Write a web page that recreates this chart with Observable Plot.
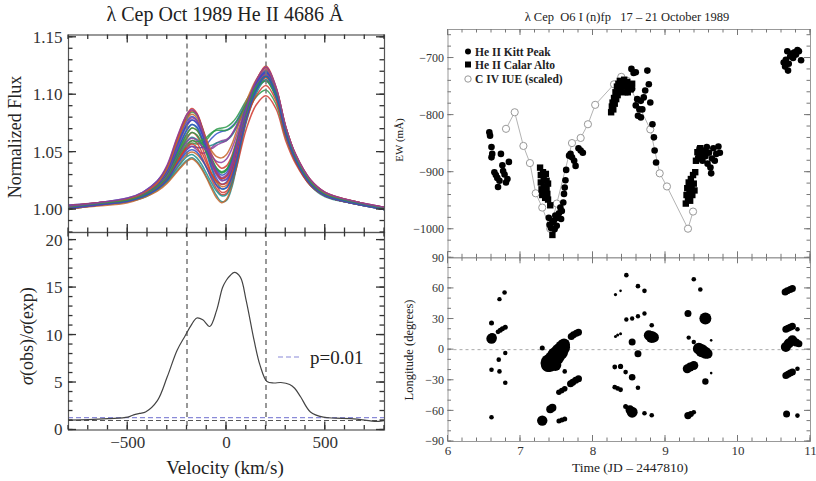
<!DOCTYPE html>
<html><head><meta charset="utf-8">
<script src="https://cdn.jsdelivr.net/npm/d3@7"></script>
<script src="https://cdn.jsdelivr.net/npm/@observablehq/plot@0.6"></script>
<style>
body{margin:0;background:#fff;}
#wrap{position:relative;width:816px;height:481px;overflow:hidden;background:#fff;}
#wrap svg{position:absolute;left:0;top:0;}
</style></head><body><div id="wrap"></div>
<script>
// ---------- LEFT: He II 4686 profiles ----------
const velGrid = [-800,-650,-500,-425,-350,-300,-250,-200,-175,-150,-125,-100,-75,-50,-25,0,25,50,100,150,200,250,300,350,425,500,650,800];
const profiles = [
 [1.003,1.005,1.009,1.014,1.024,1.038,1.062,1.083,1.088,1.084,1.073,1.060,1.048,1.040,1.036,1.038,1.046,1.060,1.090,1.112,1.124,1.106,1.072,1.048,1.026,1.015,1.007,1.001],
 [1.001,1.004,1.008,1.013,1.022,1.035,1.058,1.080,1.085,1.082,1.072,1.058,1.045,1.036,1.032,1.035,1.044,1.058,1.088,1.110,1.121,1.104,1.070,1.046,1.024,1.014,1.006,1.000],
 [1.004,1.006,1.010,1.015,1.025,1.037,1.058,1.077,1.081,1.078,1.068,1.055,1.042,1.032,1.026,1.026,1.034,1.050,1.084,1.108,1.120,1.103,1.068,1.044,1.023,1.013,1.006,1.002],
 [1.002,1.005,1.008,1.012,1.021,1.032,1.053,1.073,1.078,1.076,1.068,1.057,1.047,1.042,1.041,1.044,1.052,1.064,1.090,1.110,1.119,1.103,1.071,1.047,1.025,1.014,1.007,1.001],
 [1.000,1.004,1.007,1.011,1.019,1.030,1.050,1.070,1.074,1.071,1.061,1.048,1.035,1.024,1.018,1.019,1.028,1.045,1.082,1.106,1.118,1.100,1.066,1.043,1.022,1.012,1.005,1.000],
 [1.003,1.006,1.009,1.013,1.021,1.031,1.048,1.066,1.071,1.069,1.061,1.050,1.039,1.031,1.027,1.029,1.038,1.053,1.086,1.108,1.117,1.101,1.068,1.045,1.024,1.013,1.006,1.002],
 [1.002,1.004,1.008,1.012,1.019,1.028,1.045,1.062,1.067,1.064,1.055,1.043,1.031,1.021,1.015,1.016,1.025,1.042,1.080,1.104,1.115,1.099,1.065,1.042,1.021,1.012,1.005,1.001],
 [1.002,1.005,1.008,1.012,1.019,1.027,1.042,1.055,1.058,1.057,1.058,1.061,1.066,1.070,1.071,1.072,1.075,1.080,1.095,1.108,1.116,1.102,1.070,1.046,1.024,1.013,1.006,1.001],
 [1.001,1.004,1.007,1.011,1.018,1.026,1.040,1.052,1.055,1.054,1.054,1.057,1.062,1.066,1.068,1.069,1.072,1.077,1.093,1.106,1.113,1.100,1.068,1.044,1.023,1.012,1.005,1.000],
 [1.003,1.005,1.009,1.013,1.020,1.028,1.042,1.053,1.055,1.052,1.049,1.050,1.054,1.058,1.060,1.061,1.065,1.072,1.090,1.105,1.112,1.099,1.067,1.044,1.023,1.013,1.006,1.002],
 [1.002,1.004,1.007,1.010,1.017,1.024,1.034,1.043,1.045,1.042,1.036,1.028,1.020,1.012,1.007,1.008,1.018,1.036,1.076,1.101,1.113,1.098,1.065,1.042,1.021,1.011,1.005,1.000],
 [1.001,1.003,1.006,1.010,1.016,1.023,1.033,1.042,1.044,1.041,1.035,1.027,1.018,1.010,1.006,1.009,1.020,1.038,1.078,1.104,1.117,1.101,1.067,1.043,1.022,1.012,1.005,1.001],
 [1.003,1.005,1.008,1.012,1.019,1.027,1.041,1.054,1.057,1.054,1.046,1.036,1.026,1.018,1.013,1.014,1.022,1.036,1.070,1.091,1.099,1.088,1.060,1.040,1.021,1.012,1.006,1.002],
 [1.002,1.005,1.008,1.012,1.020,1.030,1.049,1.066,1.071,1.069,1.062,1.052,1.043,1.036,1.033,1.035,1.043,1.055,1.082,1.098,1.104,1.092,1.063,1.042,1.022,1.012,1.006,1.001],
 [1.001,1.004,1.008,1.012,1.020,1.031,1.051,1.069,1.074,1.072,1.063,1.050,1.037,1.027,1.022,1.024,1.033,1.049,1.084,1.108,1.119,1.102,1.068,1.045,1.024,1.013,1.006,1.000],
 [1.004,1.006,1.009,1.013,1.022,1.033,1.054,1.075,1.080,1.077,1.067,1.053,1.040,1.030,1.025,1.027,1.036,1.052,1.087,1.111,1.122,1.105,1.071,1.047,1.025,1.014,1.007,1.002],
 [1.002,1.005,1.008,1.012,1.020,1.029,1.046,1.060,1.063,1.061,1.057,1.055,1.056,1.058,1.059,1.060,1.064,1.071,1.090,1.107,1.116,1.101,1.069,1.045,1.024,1.013,1.006,1.001],
 [1.000,1.004,1.007,1.011,1.018,1.025,1.037,1.048,1.050,1.048,1.043,1.037,1.030,1.024,1.020,1.021,1.029,1.044,1.080,1.104,1.115,1.100,1.066,1.043,1.022,1.012,1.005,1.000],
 [1.003,1.006,1.009,1.014,1.023,1.036,1.060,1.081,1.086,1.083,1.072,1.057,1.043,1.032,1.027,1.029,1.038,1.054,1.087,1.112,1.125,1.107,1.072,1.048,1.026,1.015,1.007,1.002],
 [1.002,1.005,1.008,1.012,1.020,1.030,1.047,1.063,1.067,1.065,1.058,1.049,1.041,1.035,1.032,1.034,1.042,1.056,1.085,1.105,1.112,1.098,1.066,1.043,1.023,1.013,1.006,1.001],
 [1.002,1.005,1.009,1.013,1.022,1.034,1.056,1.074,1.078,1.075,1.066,1.054,1.042,1.034,1.030,1.032,1.041,1.056,1.088,1.110,1.120,1.104,1.070,1.046,1.024,1.014,1.006,1.001],
 [1.001,1.004,1.008,1.012,1.020,1.029,1.045,1.059,1.062,1.060,1.055,1.052,1.053,1.056,1.058,1.060,1.065,1.073,1.092,1.108,1.118,1.103,1.070,1.046,1.024,1.013,1.006,1.001],
 [1.003,1.005,1.008,1.011,1.018,1.025,1.036,1.046,1.048,1.045,1.039,1.031,1.023,1.016,1.012,1.013,1.022,1.039,1.078,1.103,1.116,1.100,1.066,1.043,1.022,1.012,1.005,1.001],
 [1.002,1.005,1.009,1.014,1.023,1.036,1.059,1.079,1.083,1.080,1.071,1.060,1.051,1.046,1.045,1.048,1.056,1.068,1.094,1.113,1.123,1.106,1.072,1.047,1.025,1.014,1.007,1.001],
 [1.002,1.004,1.008,1.012,1.019,1.027,1.042,1.056,1.060,1.058,1.050,1.040,1.031,1.025,1.022,1.023,1.031,1.045,1.078,1.099,1.108,1.095,1.064,1.042,1.022,1.012,1.005,1.001],
 [1.002,1.005,1.008,1.012,1.020,1.028,1.044,1.057,1.060,1.059,1.060,1.063,1.067,1.069,1.069,1.069,1.071,1.076,1.092,1.107,1.116,1.102,1.069,1.045,1.024,1.013,1.006,1.001],
 [1.001,1.004,1.007,1.011,1.018,1.026,1.039,1.050,1.052,1.050,1.044,1.036,1.028,1.021,1.018,1.019,1.027,1.042,1.079,1.104,1.116,1.100,1.066,1.043,1.022,1.012,1.005,1.000],
 [1.003,1.006,1.010,1.015,1.025,1.039,1.063,1.083,1.087,1.083,1.071,1.056,1.043,1.033,1.028,1.030,1.039,1.055,1.088,1.112,1.124,1.107,1.072,1.048,1.026,1.015,1.007,1.002]
];
const lineColors = ["#d03a2f","#2c9a4a","#2f4fc4","#8b3d9e","#1d8c8c","#c8642a"];
const sigmaVel = [-800,-700,-600,-500,-470,-440,-410,-350,-300,-250,-210,-180,-150,-120,-85,-50,-20,0,20,40,70,100,140,170,205,240,275,320,345,375,425,490,550,630,700,750,800];
const sigmaRatio = [1.05,1.1,1.2,1.35,1.6,1.75,1.9,3.1,5.6,8.4,9.9,11.0,11.8,11.6,10.9,12.6,15.0,15.8,16.3,16.6,16.1,13.6,9.4,6.8,5.1,4.95,5.0,4.8,4.4,3.5,1.9,1.35,1.25,1.2,1.05,0.9,1.0];
const markerVel = [-200, 200];
const expLevel = [1.0];
const pLevel = [1.3];

// ---------- RIGHT: EW time series ----------
const kittPeak = [
 [6.57,-830],[6.58,-836],[6.60,-856],[6.61,-868],[6.60,-874],[6.64,-900],[6.66,-905],[6.68,-910],[6.69,-926],[6.71,-915],[6.73,-868],[6.75,-888],[6.76,-898],[6.78,-904],[6.80,-918],[6.82,-912],[6.84,-882],
 [7.39,-980],[7.40,-992],[7.42,-998],[7.44,-988],[7.46,-985],[7.47,-1000],[7.48,-976],[7.50,-994],[7.51,-980],[7.53,-972],[7.55,-962],[7.56,-982],[7.57,-968],[7.59,-953],[7.60,-938],[7.61,-927],[7.62,-914],[7.63,-896],[7.67,-871],[7.69,-868],[7.71,-874],[7.74,-880],[7.76,-889],[7.80,-858],[7.83,-862],[7.86,-866],
 [8.47,-760],[8.49,-746],[8.53,-719],[8.54,-754],[8.56,-726],[8.59,-725],[8.59,-783],[8.61,-772],[8.62,-801],[8.64,-790],[8.66,-775],[8.66,-804],[8.68,-790],[8.70,-769],[8.72,-757],[8.75,-722],[8.77,-746],[8.79,-778],[8.82,-816],[8.84,-839],[8.85,-862],[8.87,-883],
 [9.45,-875],[9.47,-858],[9.49,-868],[9.51,-880],[9.53,-862],[9.55,-872],[9.57,-856],[9.58,-885],[9.60,-866],[9.62,-892],[9.63,-902],[9.64,-876],[9.66,-858],[9.68,-880],[9.70,-868],[9.73,-855],[9.75,-866],
 [10.63,-708],[10.65,-715],[10.66,-703],[10.68,-688],[10.69,-722],[10.70,-710],[10.72,-697],[10.74,-692],[10.76,-700],[10.78,-690],[10.80,-694],[10.82,-686],[10.84,-688],[10.87,-704]
];
const calarAlto = [
 [7.27,-892],[7.28,-905],[7.28,-918],[7.29,-930],[7.30,-940],[7.31,-900],[7.32,-912],[7.32,-925],[7.33,-935],[7.34,-945],[7.35,-903],[7.36,-915],[7.36,-928],[7.37,-938],[7.38,-920],[7.38,-948],[7.41,-958],[7.44,-1010],
 [8.25,-795],[8.26,-785],[8.27,-778],[8.28,-790],[8.29,-770],[8.30,-780],[8.31,-760],[8.32,-772],[8.33,-750],[8.34,-765],[8.35,-745],[8.36,-758],[8.37,-740],[8.38,-752],[8.40,-745],[8.41,-760],[8.43,-738],[8.45,-750],[8.47,-742],[8.48,-760],[8.50,-748],[8.52,-755],[8.54,-745],
 [9.28,-955],[9.29,-940],[9.30,-928],[9.31,-945],[9.32,-918],[9.33,-935],[9.34,-950],[9.35,-912],[9.36,-925],[9.37,-940],[9.38,-905],[9.39,-920],[9.40,-932],[9.41,-900],
 [9.42,-880],[9.44,-865],[9.46,-872],[9.48,-858],[9.50,-876],[9.52,-866]
];
const civIUE = [
 [6.80,-824],[6.92,-795],[7.04,-854],[7.13,-884],[7.21,-937],[7.30,-962],[7.41,-999],[7.50,-955],[7.71,-849],[7.83,-840],[7.93,-816],[8.03,-782],[8.29,-746],[8.39,-733],[8.47,-740],[8.79,-825],[8.92,-902],[9.02,-925],[9.31,-999],[9.38,-969]
];
// ---------- RIGHT: longitude features (t, longitude, amplitude) ----------
const features = [
 [6.60,10.8,5.2],[6.61,12,4.5],[6.60,26,2.5],[6.71,49.5,2.2],[6.78,56,2.3],
 [6.69,17.5,2.4],[6.72,19,2.5],[6.75,20.5,2.5],[6.79,22,2.5],
 [6.79,-3.3,2.2],[6.70,-9.8,2.3],[6.60,-19.7,2.3],[6.71,-21.3,2.3],[6.79,-32.5,2.3],[6.60,-66.3,2.3],
 [7.30,1.6,2.5],
 [7.40,-13,9],[7.45,-10,9],[7.49,-6,9],[7.54,-2,8.5],[7.58,2,7.5],[7.60,5,6],[7.38,-15,7],[7.48,-15,6],
 [7.61,-21.3,2.3],
 [7.70,13,3.5],[7.73,14.5,3.5],[7.77,16,3.5],[7.80,17,3.5],
 [7.69,-33.4,3.5],[7.72,-32,3.5],[7.76,-30,3.5],[7.80,-28.5,3.5],
 [7.53,-41.7,2.8],[7.57,-40,2.8],[7.61,-38.3,2.8],
 [7.41,-58.5,4],[7.44,-57,4],[7.30,-69.5,5.2],
 [7.53,-70,2.5],[7.57,-69,2.5],[7.61,-68,2.5],
 [8.46,73,2.3],[8.31,54,1.6],[8.38,57.6,1.3],[8.62,62.2,2.3],[8.71,57.6,2.3],
 [8.46,29.5,2.2],[8.54,30.5,2.2],[8.62,32.7,2.2],[8.71,35.4,2.2],
 [8.31,13,1.5],[8.34,14.3,1.5],[8.38,15.7,1.5],
 [8.81,23.9,2.3],[8.77,14,5],[8.81,12.4,6],[8.84,12,5],
 [8.54,7.5,3.5],[8.62,-4,3.5],
 [8.30,-17,2.4],[8.38,-16.4,2.6],[8.45,-22,2.3],[8.54,-27,3.3],
 [8.30,-36.8,2.4],[8.34,-38,2.4],[8.38,-39.3,2.4],[8.62,-37.4,2.3],
 [8.45,-55.8,2.5],[8.51,-59,4.5],[8.54,-61.3,5.5],[8.71,-62.3,2.3],[8.81,-64.3,2.3],
 [9.39,69,2.3],[9.48,59,2.3],[9.31,35.4,3.5],[9.55,30.5,6],[9.32,11.8,2.2],[9.39,7.5,2.2],[9.63,9.1,1.3],
 [9.46,1,6],[9.50,-1,6.5],[9.55,-3,6],[9.58,-4,5],
 [9.30,-18.7,4.5],[9.34,-17,4.5],[9.39,-15.5,4.5],
 [9.63,-23,1.3],[9.55,-31.2,3.2],[9.31,-64.6,3.7],[9.35,-63,3],[9.39,-61.3,2.3],
 [10.65,56.6,3.5],[10.68,57.8,3.5],[10.72,59,3.5],[10.75,60,3.5],
 [10.66,20,3.5],[10.69,21,3.5],[10.72,22,3.5],[10.75,23,3.5],[10.82,20,2.3],
 [10.66,2.6,5],[10.70,6,5],[10.75,9.1,5],[10.80,7,4],[10.84,5.9,3.5],
 [10.66,-25.3,3.5],[10.69,-24,3.5],[10.72,-23,3.5],[10.75,-22,3.5],
 [10.82,-18.7,2.3],[10.67,-63,3.5],[10.82,-64.6,2.3]
];
const zeroLon = [0];

// ---------- helpers ----------
const range = (a, b, s) => d3.range(Math.round((b - a) / s) + 1).map(i => +(a + i * s).toFixed(6));
const baseStyle = {background: "transparent", fontFamily: "'Liberation Serif','DejaVu Serif',serif", color: "#333", overflow: "visible"};
const W = 816, H = 481;
const wrap = document.getElementById("wrap");
const intFmt = d3.format("d");

const specRows = profiles.flatMap((p, i) => p.map((f, j) => ({v: velGrid[j], f, id: i})));
const sigmaRows = sigmaVel.map((v, i) => ({v, s: sigmaRatio[i]}));

// left top
const L = 68, R = 384, T1 = 34.5, B1 = 232, B2 = 429.5;
const c1 = Plot.plot({
  width: W, height: H, marginLeft: L, marginRight: W - R, marginTop: T1, marginBottom: H - B1,
  x: {domain: [-800, 800], axis: null}, y: {domain: [0.980, 1.152], axis: null},
  color: {type: "ordinal", range: lineColors},
  style: baseStyle,
  marks: [
    Plot.line(specRows, {x: "v", y: "f", z: "id", stroke: d => d.id % lineColors.length, strokeWidth: 1.5, strokeOpacity: 0.85, curve: "catmull-rom", clip: true}),
    Plot.ruleX(markerVel, {stroke: "#777", strokeWidth: 1.5, strokeDasharray: "5,4"}),
    Plot.axisY({anchor: "left", ticks: [1.00, 1.05, 1.10, 1.15], tickSize: 0, tickPadding: 6, tickFormat: d3.format(".2f"), fontSize: 17, label: null, fill: "#333"}),
    Plot.frame({stroke: "#555", strokeWidth: 1.2})
  ]
});
wrap.appendChild(c1);

// left bottom
const c2 = Plot.plot({
  width: W, height: H, marginLeft: L, marginRight: W - R, marginTop: B1, marginBottom: H - B2,
  x: {domain: [-800, 800], axis: null}, y: {domain: [0, 20.8], axis: null},
  style: baseStyle,
  marks: [
    Plot.ruleY(pLevel, {stroke: "#8a8ad8", strokeWidth: 1.2, strokeDasharray: "5,3"}),
    Plot.ruleY(expLevel, {stroke: "#555", strokeWidth: 1.2, strokeDasharray: "5,3"}),
    Plot.ruleX(markerVel, {stroke: "#777", strokeWidth: 1.5, strokeDasharray: "5,4"}),
    Plot.line(sigmaRows, {x: "v", y: "s", stroke: "#444", strokeWidth: 1.2, curve: "catmull-rom", clip: true}),
    Plot.axisY({anchor: "left", ticks: [0, 5, 10, 15, 20], tickSize: 0, tickPadding: 6, fontSize: 17, label: null, fill: "#333"}),
    Plot.axisX({anchor: "bottom", ticks: [-500, 0, 500], tickSize: 0, tickPadding: 6, fontSize: 17, label: null, fill: "#333"}),
    Plot.frame({stroke: "#555", strokeWidth: 1.2})
  ]
});
wrap.appendChild(c2);

// right top
const RL = 447.5, RR = 810, RT = 29, RM = 257.3, RB = 441;
const c3 = Plot.plot({
  width: W, height: H, marginLeft: RL, marginRight: W - RR, marginTop: RT, marginBottom: H - RM,
  x: {domain: [6, 11], axis: null}, y: {domain: [-1050, -650], axis: null},
  style: baseStyle,
  marks: [
    Plot.line(civIUE, {x: d => d[0], y: d => d[1], stroke: "#aaa", strokeWidth: 0.9}),
    Plot.dot(civIUE, {x: d => d[0], y: d => d[1], r: 3.6, stroke: "#999", strokeWidth: 1, fill: "white"}),
    Plot.dot(calarAlto, {x: d => d[0], y: d => d[1], symbol: "square", r: 3.6, fill: "#000"}),
    Plot.dot(kittPeak, {x: d => d[0], y: d => d[1], r: 3.3, fill: "#000"}),
    Plot.axisY({anchor: "left", ticks: [-1000, -900, -800, -700], tickSize: 0, tickPadding: 4, tickFormat: intFmt, fontSize: 12, label: null, fill: "#333"}),
    Plot.frame({stroke: "#999", strokeWidth: 1})
  ]
});
wrap.appendChild(c3);

// right bottom
const c4 = Plot.plot({
  width: W, height: H, marginLeft: RL, marginRight: W - RR, marginTop: RM, marginBottom: H - RB,
  x: {domain: [6, 11], axis: null}, y: {domain: [-90, 90], axis: null},
  r: {type: "linear", domain: [0, 10], range: [0, 10]},
  style: baseStyle,
  marks: [
    Plot.ruleY(zeroLon, {stroke: "#aaa", strokeDasharray: "3,3"}),
    Plot.dot(features, {x: d => d[0], y: d => d[1], r: d => d[2], fill: "#000"}),
    Plot.axisY({anchor: "left", ticks: range(-90, 90, 30), tickSize: 0, tickPadding: 4, tickFormat: intFmt, fontSize: 12, label: null, fill: "#333"}),
    Plot.axisX({anchor: "bottom", ticks: range(6, 11, 1), tickSize: 0, tickPadding: 4, tickFormat: intFmt, fontSize: 13, label: null, fill: "#333"}),
    Plot.frame({stroke: "#999", strokeWidth: 1})
  ]
});
wrap.appendChild(c4);

// ---------- overlay (frame ticks via each plot's own scales, and text) ----------
const ov = d3.select(wrap).append("svg").attr("width", W).attr("height", H)
  .style("font-family", "'Liberation Serif','DejaVu Serif',serif").style("fill", "#222");
function frameTicks(chart, xMajor, xMinor, yMajor, yMinor, color, sw, M, m) {
  const sxo = chart.scale("x"), syo = chart.scale("y");
  const sx = d3.scaleLinear().domain(sxo.domain).range(sxo.range);
  const sy = d3.scaleLinear().domain(syo.domain).range(syo.range);
  const [x0, x1] = d3.extent(sxo.range), [y0, y1] = d3.extent(syo.range);
  const g = ov.append("g").attr("stroke", color).attr("stroke-width", sw).attr("fill", "none");
  const add = (tx, ty, s) => {
    tx.forEach(v => {
      const x = sx(v);
      g.append("line").attr("x1", x).attr("x2", x).attr("y1", y1).attr("y2", y1 - s);
      g.append("line").attr("x1", x).attr("x2", x).attr("y1", y0).attr("y2", y0 + s);
    });
    ty.forEach(v => {
      const y = sy(v);
      g.append("line").attr("y1", y).attr("y2", y).attr("x1", x0).attr("x2", x0 + s);
      g.append("line").attr("y1", y).attr("y2", y).attr("x1", x1).attr("x2", x1 - s);
    });
  };
  add(xMajor, yMajor, M);
  add(xMinor, yMinor, m);
}
frameTicks(c1, [-500, 0, 500], range(-800, 800, 100), [1.00, 1.05, 1.10, 1.15], range(0.98, 1.15, 0.01), "#333", 1.3, 8, 4.5);
frameTicks(c2, [-500, 0, 500], range(-800, 800, 100), [0, 5, 10, 15, 20], range(0, 20, 1), "#333", 1.3, 8, 4.5);
frameTicks(c3, range(6, 11, 1), range(6, 11, 0.2), [-1000, -900, -800, -700], range(-1040, -660, 20), "#777", 1, 6, 3.5);
frameTicks(c4, range(6, 11, 1), range(6, 11, 0.2), range(-90, 90, 30), range(-90, 90, 10), "#777", 1, 6, 3.5);

ov.append("text").attr("x", 225).attr("y", 21).attr("text-anchor", "middle").attr("font-size", 20).text("λ Cep Oct 1989 He II 4686 Å");
ov.append("text").attr("transform", "translate(15,137) rotate(-90)").attr("text-anchor", "middle").attr("dominant-baseline", "central").attr("font-size", 18).text("Normalized Flux");
const sg = ov.append("text").attr("transform", "translate(27,336) rotate(-90)").attr("text-anchor", "middle").attr("dominant-baseline", "central").attr("font-size", 18);
sg.append("tspan").attr("font-style", "italic").text("σ");
sg.append("tspan").text("(obs)/");
sg.append("tspan").attr("font-style", "italic").text("σ");
sg.append("tspan").text("(exp)");
ov.append("text").attr("x", 225).attr("y", 474).attr("text-anchor", "middle").attr("font-size", 19).text("Velocity (km/s)");
ov.append("line").attr("x1", 278).attr("x2", 302).attr("y1", 357).attr("y2", 357).attr("stroke", "#8a8ad8").attr("stroke-width", 1.2).attr("stroke-dasharray", "5,3");
ov.append("text").attr("x", 310).attr("y", 357).attr("dominant-baseline", "central").attr("font-size", 19).text("p=0.01");

ov.append("text").attr("x", 627).attr("y", 21).attr("text-anchor", "middle").attr("font-size", 12.5).attr("xml:space", "preserve").style("white-space", "pre").text("λ Cep  O6 I (n)fp   17 – 21 October 1989");
ov.append("text").attr("transform", "translate(399,140) rotate(-90)").attr("text-anchor", "middle").attr("dominant-baseline", "central").attr("font-size", 11).text("EW (mÅ)");
ov.append("text").attr("transform", "translate(409,350) rotate(-90)").attr("text-anchor", "middle").attr("dominant-baseline", "central").attr("font-size", 12.5).text("Longitude (degrees)");
ov.append("text").attr("x", 630).attr("y", 472).attr("text-anchor", "middle").attr("font-size", 13.5).text("Time (JD – 2447810)");
// legend
ov.append("circle").attr("cx", 468).attr("cy", 51.5).attr("r", 3).attr("fill", "#000");
ov.append("rect").attr("x", 465).attr("y", 61.5).attr("width", 6).attr("height", 6).attr("fill", "#000");
ov.append("circle").attr("cx", 468).attr("cy", 79).attr("r", 3.2).attr("fill", "white").attr("stroke", "#999");
[["He II Kitt Peak", 51.5], ["He II Calar Alto", 64.5], ["C IV IUE (scaled)", 79]].forEach(([t, y]) =>
  ov.append("text").attr("x", 475).attr("y", y).attr("dominant-baseline", "central").attr("font-size", 11.5).attr("font-weight", "bold").style("fill", "#222").text(t));
</script></body></html>
